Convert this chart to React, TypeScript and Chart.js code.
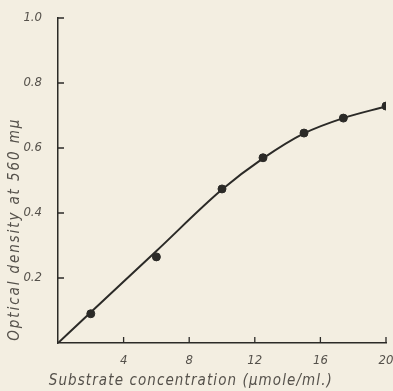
import React, { useEffect, useRef } from "react";
import { Chart, registerables } from "chart.js";

Chart.register(...registerables);

const pointX = [2, 6, 10, 12.5, 15, 17.4, 20];
const pointY = [0.09, 0.265, 0.474, 0.57, 0.646, 0.692, 0.729];

const curveX = [0, 2, 6, 10, 12.5, 15, 17.4, 20];
const curveY = [0, 0.0944, 0.283, 0.472, 0.568, 0.645, 0.692, 0.728];

const yTitle = "Optical density at 560 mμ";
const xTitle = "Substrate concentration (μmole/ml.)";

const BG = "#f3eee1";
const INK = "#2b2a27";
const TEXT = "#55514b";
const FONT = "'Liberation Sans Narrow', 'DejaVu Sans Condensed', 'Liberation Sans', sans-serif";

const axisDecor = {
  id: "axisDecor",
  afterDraw(chart: any) {
    const ctx = chart.ctx;
    const xs = chart.scales.x;
    const ys = chart.scales.y;
    ctx.save();
    ctx.strokeStyle = INK;
    ctx.lineWidth = 1.3;
    ctx.beginPath();
    ys.ticks.forEach((t: any) => {
      if (t.value === 0) return;
      const py = ys.getPixelForValue(t.value);
      ctx.moveTo(xs.left, py);
      ctx.lineTo(xs.left + 6, py);
    });
    xs.ticks.forEach((t: any) => {
      if (t.value === 0) return;
      const px = xs.getPixelForValue(t.value);
      ctx.moveTo(px, ys.bottom);
      ctx.lineTo(px, ys.bottom - 6);
    });
    ctx.stroke();

    // axis titles
    ctx.fillStyle = TEXT;
    ctx.font = `italic 15px ${FONT}`;
    ctx.textAlign = "center";
    ctx.textBaseline = "middle";
    (ctx as any).letterSpacing = "1.1px";
    ctx.fillText(xTitle, xs.getPixelForValue(8.1), 381);
    ctx.save();
    ctx.translate(15, ys.getPixelForValue(0.35));
    ctx.rotate(-Math.PI / 2);
    (ctx as any).letterSpacing = "1.9px";
    ctx.fillText(yTitle, 0, 0);
    ctx.restore();
    ctx.restore();
  },
};

export default function App() {
  const ref = useRef<HTMLCanvasElement>(null);
  useEffect(() => {
    document.body.style.margin = "0";
    const chart = new Chart(ref.current!, {
      type: "scatter",
      data: {
        datasets: [
          {
            type: "line",
            data: curveX.map((x, i) => ({ x, y: curveY[i] })),
            borderColor: INK,
            borderWidth: 2,
            pointRadius: 0,
            cubicInterpolationMode: "monotone",
            fill: false,
          } as any,
          {
            data: pointX.map((x, i) => ({ x, y: pointY[i] })),
            backgroundColor: INK,
            borderColor: INK,
            pointRadius: 4,
          },
        ],
      },
      options: {
        animation: false,
        responsive: false,
        layout: { padding: { top: 18, right: 7, left: 0, bottom: 0 } },
        plugins: { legend: { display: false }, tooltip: { enabled: false } },
        scales: {
          x: {
            type: "linear",
            min: 0,
            max: 20,
            grid: { display: false },
            border: { display: true, color: INK, width: 1.5 },
            ticks: {
              stepSize: 4,
              padding: 2,
              color: TEXT,
              font: { family: FONT, size: 13, style: "italic" },
              callback: (v: any) => (v === 0 ? "" : String(v)),
            },
            afterFit: (s: any) => {
              s.height = 48;
              s.paddingRight = 0;
              s.paddingLeft = 0;
            },
          },
          y: {
            type: "linear",
            min: 0,
            max: 1,
            grid: { display: false },
            border: { display: true, color: INK, width: 1.5 },
            ticks: {
              stepSize: 0.2,
              padding: 8,
              color: TEXT,
              font: { family: FONT, size: 13, style: "italic" },
              callback: (v: any) => (v === 0 ? "" : Number(v).toFixed(1)),
            },
            afterFit: (s: any) => {
              s.width = 58;
              s.paddingTop = 0;
              s.paddingBottom = 0;
            },
          },
        },
      },
      plugins: [axisDecor],
    });
    return () => chart.destroy();
  }, []);
  return (
    <div style={{ width: 393, height: 391, background: BG }}>
      <canvas ref={ref} width={393} height={391} />
    </div>
  );
}
